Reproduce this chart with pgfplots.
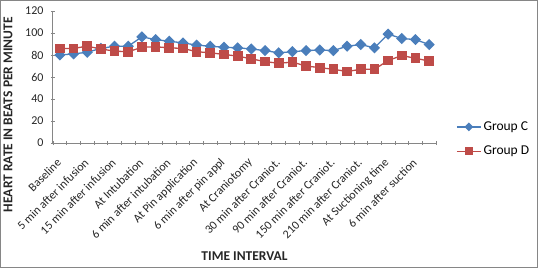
\documentclass[border=0pt]{standalone}
\usepackage{fontspec}
\setmainfont{Carlito}
\usepackage{pgfplots}
\usepackage{pgfplotstable}
\pgfplotsset{compat=1.18}
\definecolor{gc}{HTML}{4A7EBB}
\definecolor{gd}{HTML}{BE4B48}
\definecolor{ax}{HTML}{868686}
\pgfplotstableread{
x C D
0 80 86
1 81 86
2 82.5 88
3 86 85.5
4 88 83.5
5 88 83
6 96.5 87
7 94 87.5
8 92.5 86.5
9 91 86
10 89 83
11 88 82
12 87 80.5
13 86.5 79
14 85.5 76.5
15 84 74
16 82 72.5
17 83 73.5
18 84 70
19 84.5 68.5
20 84 67
21 88 65
22 89.5 67
23 86.5 67
24 99 75
25 95 79.5
26 94 77
27 89.5 74.5
}\hrdata
\begin{document}
\begin{tikzpicture}
\begin{axis}[scale only axis,
  width=383pt, height=132pt,
  xmin=-0.5, xmax=27.5, ymin=0, ymax=120,
  ytick={0,20,...,120},
  xtick={0,2,...,26},
  xticklabels={Baseline,5 min after infusion,15 min after infusion,At Intubation,6 min after intubation,At Pin application,6 min after pin appl,At Craniotomy,30 min after Craniot.,90 min after Craniot.,150 min after Craniot.,210 min after Craniot.,At Suctioning time,6 min after suction},
  minor xtick={-0.5,0.5,...,27.5},
  major x tick style={draw=none},
  minor tick length=4pt, major tick length=4pt,
  tick align=outside,
  tick style={ax, line width=0.8pt},
  axis x line=bottom, axis y line=left,
  axis line style={ax, line width=1pt, -},
  /pgf/number format/assume math mode=true,
  tick label style={font=\fontsize{12}{14}\selectfont, text=black!85},
  yticklabel style={xshift=-4pt},
  xticklabel style={xshift=0pt, yshift=-15pt, rotate=45, anchor=east, inner sep=1pt},
  xlabel={TIME INTERVAL},
  ylabel={HEART RATE IN BEATS PER MINUTE},
  label style={font=\bfseries\fontsize{13.5}{15}\selectfont, text=black!85},
  xlabel style={at={(axis description cs:0.5,-0.856)}, anchor=center},
  ylabel style={at={(axis description cs:-0.1175,0.215)}, anchor=center},
  legend style={at={(axis description cs:1.0496,0.03)}, anchor=west, draw=none, fill=none,
    font=\fontsize{13.5}{15}\selectfont, row sep=10pt, inner sep=1pt},
  legend cell align=left,
  legend image code/.code={\draw[mark repeat=2,mark phase=2,#1] plot coordinates {(0pt,0pt) (12pt,0pt) (24pt,0pt)};},
  legend image post style={every mark/.append style={scale=0.75}},
  clip=false,
]
\addplot[gc, line width=1.3pt, mark=square*, mark size=3.3pt, mark options={rotate=45, fill=gc, draw=gc}] table[x=x,y=C] {\hrdata};
\addlegendentry{Group C}
\addplot[gd, line width=1.3pt, mark=square*, mark size=4.2pt, mark options={fill=gd, draw=gd}] table[x=x,y=D] {\hrdata};
\addlegendentry{Group D}
\coordinate (fsw) at (rel axis cs:-0.13838,-0.94697);
\coordinate (fne) at (rel axis cs:1.26632,1.08333);
\end{axis}
\draw[ax, line width=1.2pt] ([shift={(0.6pt,0.6pt)}]fsw) rectangle ([shift={(-0.6pt,-0.6pt)}]fne);
\pgfresetboundingbox
\useasboundingbox (fsw) rectangle (fne);
\end{tikzpicture}
\end{document}
